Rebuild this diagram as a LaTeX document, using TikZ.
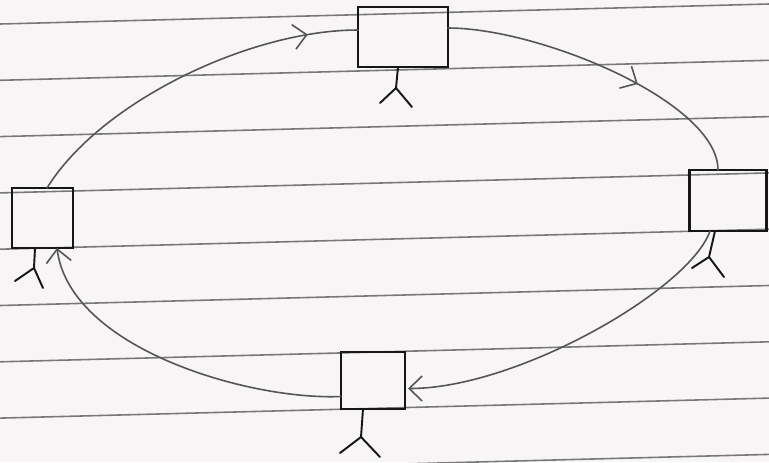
\documentclass[tikz,border=0pt]{standalone}
\usepackage{xcolor}
\definecolor{paper}{RGB}{247,245,245}
\definecolor{rule}{RGB}{120,120,120}
\definecolor{pencil}{RGB}{85,85,85}
\definecolor{ink}{RGB}{22,22,22}
\usetikzlibrary{
    arrows.meta,
    decorations.markings
}

\begin{document}
\begin{tikzpicture}[
    x=0.2mm, y=-0.2mm,
    >={Straight Barb[length=2.6mm, width=5mm]},
    ruled/.style={rule, line width=0.9pt},
    unit/.style={draw=ink, line width=1.5pt, inner sep=0pt, outer sep=0pt},
    leg/.style={ink, line width=1.1pt, line cap=round, line join=round},
    link/.style={pencil, line width=0.9pt, line cap=round},
    midarrow/.style={postaction={decorate}, decoration={markings, mark=at position #1 with {\arrow{>}}}}
]

% ==================== PAPER ====================
\useasboundingbox (0,0) rectangle (769,462);
\clip (0,0) rectangle (769,462);
\fill[paper] (0,0) rectangle (769,462);

\foreach \k in {0,...,8} {
    \draw[ruled] (0,{24+56.3*\k}) -- (769,{4+56.3*\k});
}

% ==================== UNITS ====================
\node[unit, minimum width=18mm, minimum height=12mm] (top) at (403,37) {};
\node[unit, minimum width=12.2mm, minimum height=12mm] (left) at (42.5,218) {};
\node[unit, minimum width=15.4mm, minimum height=12.2mm] (right) at (728,200.5) {};
\node[unit, minimum width=12.8mm, minimum height=11.4mm] (bottom) at (373,380.5) {};

% legs under each unit
\foreach \n/\dx/\sx/\sy/\ax/\ay/\bx/\by in {
    top/-1/-2/21/-16/15/16/19,
    left/-1.5/-1/20/-19/13/9/20,
    right/-2.6/-6/26/-17/11/15/20,
    bottom/-2/-2/28/-21/16/19/20
} {
    \draw[leg] ([xshift=\dx mm]\n.south) -- ++(\sx,\sy) coordinate (\n-joint)
        -- ++(\ax,\ay) (\n-joint) -- ++(\bx,\by);
}

% ==================== RING ====================
\draw[link, midarrow=0.86] ([xshift=0.9mm]left.north) .. controls +(53,-86) and +(-108,0) .. ([yshift=1.4mm]top.west);
\draw[link, midarrow=0.62] ([yshift=1.8mm]top.east) .. controls +(92,0) and +(0,-68) .. ([xshift=-2mm]right.north);
\draw[link, ->, shorten >=0.6mm] ([xshift=-3.6mm]right.south) .. controls +(-20,58) and +(113,0) .. ([yshift=-1.6mm]bottom.east);
\draw[link, ->] ([yshift=-3.2mm]bottom.west) .. controls +(-91,4) and +(13,101) .. ([xshift=2.9mm]left.south);

\end{tikzpicture}
\end{document}
